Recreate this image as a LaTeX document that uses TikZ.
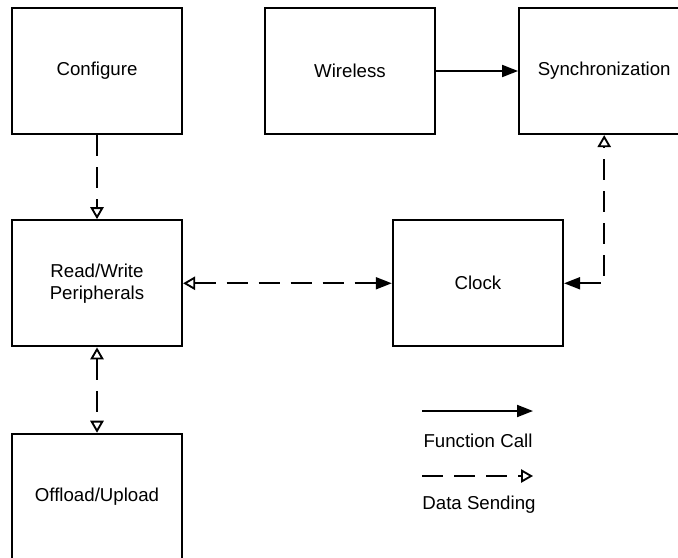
\documentclass[tikz,border=0pt]{standalone}
\usepackage{fontspec}
\setmainfont{Liberation Sans}
\usetikzlibrary{arrows.meta,positioning}

\tikzset{
  filltip/.tip={Triangle[length=12pt,width=9pt]},
  opentip/.tip={Triangle[open,length=9pt,width=10pt]}
}

\begin{document}
\begin{tikzpicture}[x=0.75pt,y=-0.75pt,
			module/.style={rectangle, draw, line width=1.7pt, minimum width=127.5pt, minimum height=94.5pt, align=center, font=\fontsize{14}{16.5}\selectfont},
			call/.style={line width=1.4pt, -filltip},
			data/.style={line width=1.4pt, dash pattern=on 16pt off 8pt, -opentip},
			legend/.style={font=\fontsize{14}{16.5}\selectfont}
		]
		\useasboundingbox (0,0) rectangle (678,557);

		% Top row
		\node[module] (config) at (97,71) {Configure};
		\node[module, right=60.5pt of config] (wireless) {Wireless};
		\node[module, right=61.5pt of wireless] (sync) {Synchronization};

		% Middle row
		\node[module, below=63pt of config] (rw) {Read/Write\\Peripherals};
		\node[module, right=156.5pt of rw] (clock) {Clock};

		% Bottom row
		\node[module, below=64pt of rw] (offload) {Offload/Upload};

		% Connectors
		\draw[call] (wireless) -- (sync);
		\draw[data] (config) -- (rw);
		\draw[data, opentip-filltip] (rw) -- (clock);
		\draw[data, filltip-opentip] (clock.east) -| (sync.south);
		\draw[data, opentip-opentip] (rw) -- (offload);

		% Legend
		\coordinate (callstart) at (422,411);
		\coordinate (callend) at (533,411);
		\draw[call] (callstart) -- (callend);
		\node[legend] (calltext) at (478,441) {Function Call};
		\coordinate (datastart) at (422,476);
		\coordinate (dataend) at (533,476);
		\draw[data] (datastart) -- (dataend);
		\node[legend] (datatext) at (479,505) {Data Sending};

	\end{tikzpicture}
\end{document}
